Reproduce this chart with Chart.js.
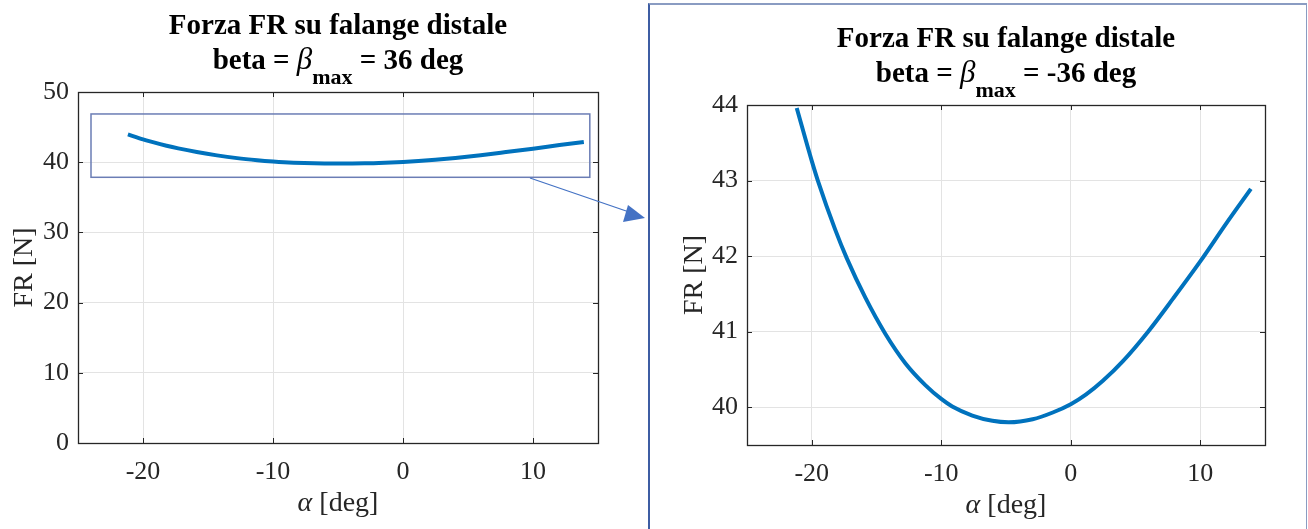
<!DOCTYPE html>
<html>
<head>
<meta charset="utf-8">
<script src="https://cdn.jsdelivr.net/npm/chart.js@4/dist/chart.umd.min.js"></script>
<style>
  html, body { margin: 0; padding: 0; background: #fff; }
  #page { position: relative; width: 1308px; height: 529px; overflow: hidden; }
  #leftBox { position: absolute; left: 0; top: 0; width: 640px; height: 529px; }
  #rightPanel { position: absolute; left: 648px; top: 3px; width: 659px; height: 540px;
                border-left: 2px solid #3d5da3; border-top: 2px solid #8a9cc2;
                border-right: 1.5px solid #8a9cc2; box-sizing: border-box; }
  #rightBox { position: absolute; left: 650px; top: 0; width: 656px; height: 529px; }
  #arrow { position: absolute; left: 0; top: 0; pointer-events: none; }
</style>
</head>
<body>
<div id="page">
  <div id="rightPanel"></div>
  <div id="leftBox"><canvas id="chartLeft"></canvas></div>
  <div id="rightBox"><canvas id="chartRight"></canvas></div>
  <svg id="arrow" width="1308" height="529">
    <line x1="530" y1="178" x2="632" y2="213" stroke="#4472c4" stroke-width="1.3"/>
    <polygon points="645,218 628,205 623,222" fill="#4472c4"/>
  </svg>
</div>
<script>
// alpha [deg] and FR [N]
var alphaDeg = [-21.16, -20.0, -19.53, -18.19, -17.29, -15.86, -14.31, -12.76, -11.21, -10.0, -9.15,
                -7.60, -6.05, -4.8, -2.94, -1.39, 0.0, 1.19, 2.48, 4.03, 5.97, 7.91, 10.0, 12.04, 13.91];
var forceN = [43.96, 43.26, 43.0, 42.35, 41.97, 41.45, 40.97, 40.58, 40.29, 40.11, 40.01,
              39.89, 39.82, 39.80, 39.84, 39.93, 40.04, 40.17, 40.35, 40.61, 41.0, 41.44, 41.93, 42.44, 42.89];

var xTicks = [-20, -10, 0, 10];
var yTicksLeft = [0, 10, 20, 30, 40, 50];
var yTicksRight = [40, 41, 42, 43, 44];

var titleLine1 = 'Forza FR su falange distale';
var betaLeft = '36';
var betaRight = '-36';

// zoom rectangle on the left plot (data units)
var zoomRectX = [-24, 14.37];
var zoomRectY = [37.85, 46.87];

var SERIF = '"Liberation Serif", "Times New Roman", serif';
var AX_COLOR = '#262626';

function getPoints() {
    var _pts = [];
    for (i = 0; i < alphaDeg.length; i++) {
        _pts.push({ x: alphaDeg[i], y: forceN[i] });
    }
    return _pts;
}

// MATLAB-like box, inward ticks, titles
var matlabPlugin = {
    id: 'matlabLook',
    afterDraw: function (chart, args, opts) {
        var ctx = chart.ctx, a = chart.chartArea;
        var sx = chart.scales.x, sy = chart.scales.y;
        ctx.save();

        if (opts.rect) {
            var rx1 = sx.getPixelForValue(opts.rect.x[0]), rx2 = sx.getPixelForValue(opts.rect.x[1]);
            var ry1 = sy.getPixelForValue(opts.rect.y[1]), ry2 = sy.getPixelForValue(opts.rect.y[0]);
            ctx.strokeStyle = '#6b7db5';
            ctx.lineWidth = 1.5;
            ctx.strokeRect(rx1, ry1, rx2 - rx1, ry2 - ry1);
        }

        ctx.strokeStyle = AX_COLOR;
        ctx.lineWidth = 1;
        ctx.beginPath();
        sx.ticks.forEach(function (t) {
            var px = Math.round(sx.getPixelForValue(t.value)) + 0.5;
            ctx.moveTo(px, a.bottom); ctx.lineTo(px, a.bottom - 5);
            ctx.moveTo(px, a.top); ctx.lineTo(px, a.top + 5);
        });
        sy.ticks.forEach(function (t) {
            var py = Math.round(sy.getPixelForValue(t.value)) + 0.5;
            ctx.moveTo(a.left, py); ctx.lineTo(a.left + 5, py);
            ctx.moveTo(a.right, py); ctx.lineTo(a.right - 5, py);
        });
        ctx.stroke();
        ctx.lineWidth = 1.3;
        ctx.strokeRect(Math.round(a.left) + 0.5, Math.round(a.top) + 0.5,
                       Math.round(a.right - a.left), Math.round(a.bottom - a.top));

        // x axis title: italic alpha + [deg]
        var cx = (a.left + a.right) / 2;
        ctx.fillStyle = AX_COLOR;
        ctx.textBaseline = 'alphabetic';
        ctx.font = 'italic 28px ' + SERIF;
        var wA = ctx.measureText('\u03b1').width;
        ctx.font = '28px ' + SERIF;
        var wD = ctx.measureText(' [deg]').width;
        var x0 = cx - (wA + wD) / 2;
        var yb = a.bottom + 68;
        ctx.font = 'italic 28px ' + SERIF;
        ctx.textAlign = 'left';
        ctx.fillText('\u03b1', x0, yb);
        ctx.font = '28px ' + SERIF;
        ctx.fillText(' [deg]', x0 + wA, yb);

        // title, two lines, second with beta_max subscript
        ctx.fillStyle = '#000';
        ctx.font = 'bold 29px ' + SERIF;
        ctx.textAlign = 'center';
        ctx.fillText(titleLine1, cx, a.top - 58);

        var parts = [
            { t: 'beta = ', f: 'bold 29px ' + SERIF, dy: 0 },
            { t: '\u03b2', f: 'italic 31px ' + SERIF, dy: 0 },
            { t: 'max', f: 'bold 22px ' + SERIF, dy: 15 },
            { t: ' = ' + opts.beta + ' deg', f: 'bold 29px ' + SERIF, dy: 0 }
        ];
        var total = 0;
        parts.forEach(function (p) { ctx.font = p.f; p.w = ctx.measureText(p.t).width; total += p.w; });
        var px0 = cx - total / 2;
        ctx.textAlign = 'left';
        parts.forEach(function (p) {
            ctx.font = p.f;
            ctx.fillText(p.t, px0, a.top - 23 + p.dy);
            px0 += p.w;
        });
        ctx.restore();
    }
};

function CreateFRChart(ControlId, yMin, yMax, yTicks, beta, rect, geom) {
    var ctx = document.getElementById(ControlId);
    return new Chart(ctx, {
        type: 'line',
        data: {
            datasets: [{
                data: getPoints(),
                borderColor: '#0072bd',
                borderWidth: 4,
                pointRadius: 0,
                fill: false,
                cubicInterpolationMode: 'monotone'
            }]
        },
        options: {
            responsive: true,
            maintainAspectRatio: false,
            animation: false,
            layout: { padding: { top: geom.top, right: geom.right, left: 0, bottom: 0 } },
            plugins: {
                legend: { display: false },
                tooltip: { enabled: false },
                matlabLook: { beta: beta, rect: rect }
            },
            scales: {
                x: {
                    type: 'linear',
                    min: -25, max: 15,
                    afterBuildTicks: function (s) { s.ticks = xTicks.map(function (v) { return { value: v }; }); },
                    afterFit: function (s) { s.height = geom.xh; },
                    grid: { color: '#e3e3e3', drawTicks: false },
                    border: { display: false },
                    ticks: { padding: 14, color: AX_COLOR, font: { family: SERIF, size: 26 } }
                },
                y: {
                    min: yMin, max: yMax,
                    afterBuildTicks: function (s) { s.ticks = yTicks.map(function (v) { return { value: v }; }); },
                    afterFit: function (s) { s.width = geom.yw; },
                    grid: { color: '#e3e3e3', drawTicks: false },
                    border: { display: false },
                    ticks: { padding: 9, color: AX_COLOR, font: { family: SERIF, size: 26 } },
                    title: { display: true, text: 'FR [N]', color: AX_COLOR, padding: { top: geom.tp, bottom: 0 },
                             font: { family: SERIF, size: 28 } }
                }
            }
        },
        plugins: [matlabPlugin]
    });
}

var LeftChart = CreateFRChart('chartLeft', 0, 50, yTicksLeft, betaLeft,
    { x: zoomRectX, y: zoomRectY }, { top: 92, right: 42, xh: 86, yw: 78, tp: 8 });
var RightChart = CreateFRChart('chartRight', 39.5, 44, yTicksRight, betaRight,
    null, { top: 105, right: 41, xh: 84, yw: 97, tp: 28 });
</script>
</body>
</html>
